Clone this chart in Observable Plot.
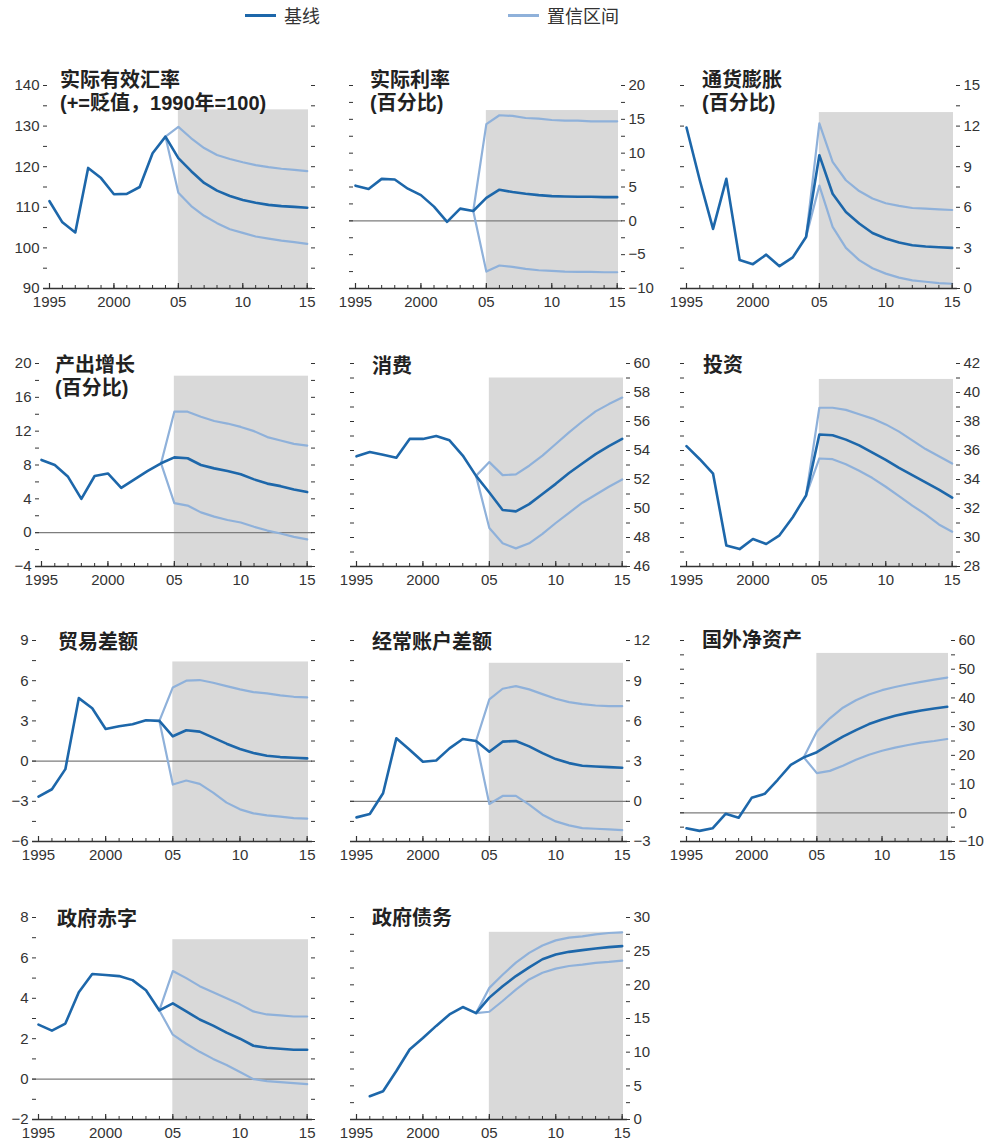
<!DOCTYPE html>
<html>
<head>
<meta charset="utf-8">
<script src="https://cdn.jsdelivr.net/npm/d3@7"></script>
<script src="https://cdn.jsdelivr.net/npm/@observablehq/plot@0.6"></script>
<style>
  html, body { margin: 0; padding: 0; background: #fff; }
  body { width: 987px; height: 1144px; overflow: hidden; }
  #wrap { position: relative; width: 987px; height: 1144px; overflow: hidden; }
  .panel { position: absolute; }
  .panel svg { max-width: none !important; display: block; }
  .title { position: absolute; font-family: "Liberation Sans", "Noto Sans CJK SC", sans-serif; font-weight: 700; font-size: 20px; line-height: 23px; color: #222; white-space: nowrap; }
  .legend-line { position: absolute; height: 3px; }
  .legend-text { position: absolute; font-family: "Noto Sans CJK SC", sans-serif; font-size: 18px; line-height: 20px; color: #333; }
</style>
</head>
<body>
<div id="wrap"></div>
<script>
// ---------- data ----------
const years = [1995,1996,1997,1998,1999,2000,2001,2002,2003,2004,2005,2006,2007,2008,2009,2010,2011,2012,2013,2014,2015];
const projYears = [2004,2005,2006,2007,2008,2009,2010,2011,2012,2013,2014,2015];
const xTickValues = [1995, 2000, 2005, 2010, 2015];
const xTickLabels = ["1995", "2000", "05", "10", "15"];
const legendLabels = ["基线", "置信区间"];

const titles = [
  ["实际有效汇率", "(+=贬值，1990年=100)"],
  ["实际利率", "(百分比)"],
  ["通货膨胀", "(百分比)"],
  ["产出增长", "(百分比)"],
  ["消费"],
  ["投资"],
  ["贸易差额"],
  ["经常账户差额"],
  ["国外净资产"],
  ["政府赤字"],
  ["政府债务"]
];

const reerBase  = [111.5,106.3,103.8,119.7,117.2,113.2,113.3,115.0,123.3,127.4,122.1,118.9,116.0,114.1,112.8,111.8,111.1,110.6,110.3,110.1,109.9];
const reerUpper = [127.4,129.8,127.0,124.6,122.9,121.9,121.1,120.4,119.9,119.5,119.2,118.9];
const reerLower = [127.4,113.6,110.3,107.9,106.1,104.6,103.7,102.8,102.3,101.8,101.4,101.0];

const rateBase  = [5.2,4.7,6.2,6.1,4.75,3.8,2.1,-0.15,1.8,1.45,3.4,4.6,4.25,4.0,3.8,3.65,3.6,3.55,3.55,3.5,3.5];
const rateUpper = [1.45,14.3,15.6,15.5,15.2,15.1,14.9,14.8,14.8,14.7,14.7,14.7];
const rateLower = [1.45,-7.5,-6.6,-6.8,-7.1,-7.3,-7.4,-7.5,-7.55,-7.55,-7.6,-7.6];

const inflBase  = [11.9,8.0,4.4,8.1,2.1,1.8,2.5,1.65,2.3,3.8,9.85,7.0,5.65,4.8,4.1,3.7,3.4,3.2,3.1,3.05,3.0];
const inflUpper = [3.8,12.2,9.35,8.0,7.2,6.65,6.3,6.1,5.95,5.9,5.85,5.8];
const inflLower = [3.8,7.6,4.55,3.0,2.1,1.5,1.1,0.8,0.6,0.5,0.4,0.35];

const growthBase  = [8.6,8.0,6.6,4.0,6.7,7.0,5.3,6.3,7.3,8.2,8.9,8.8,8.0,7.6,7.3,6.9,6.3,5.8,5.5,5.1,4.8];
const growthUpper = [8.2,14.3,14.3,13.7,13.2,12.9,12.5,12.0,11.3,10.9,10.5,10.3];
const growthLower = [8.2,3.5,3.2,2.4,1.9,1.5,1.2,0.7,0.25,-0.1,-0.5,-0.8];

const consBase  = [53.6,53.9,53.7,53.5,54.8,54.8,55.0,54.7,53.65,52.25,51.1,49.9,49.8,50.3,51.0,51.7,52.45,53.1,53.75,54.3,54.8];
const consUpper = [52.25,53.2,52.3,52.35,52.95,53.65,54.45,55.25,56.0,56.7,57.2,57.65];
const consLower = [52.25,48.65,47.6,47.25,47.6,48.25,49.0,49.7,50.4,50.95,51.5,52.0];

const invBase  = [36.3,35.4,34.4,29.45,29.2,29.9,29.55,30.15,31.4,32.9,37.1,37.05,36.75,36.35,35.85,35.35,34.8,34.3,33.8,33.3,32.75];
const invUpper = [32.9,38.95,38.95,38.8,38.5,38.2,37.8,37.3,36.7,36.1,35.6,35.1];
const invLower = [32.9,35.45,35.4,35.05,34.6,34.1,33.5,32.85,32.2,31.6,30.9,30.4];

const tradeBase  = [-2.65,-2.1,-0.6,4.7,3.95,2.4,2.6,2.75,3.05,3.0,1.85,2.3,2.2,1.75,1.3,0.9,0.6,0.4,0.3,0.25,0.2];
const tradeUpper = [3.0,5.5,6.0,6.05,5.85,5.6,5.35,5.15,5.05,4.9,4.8,4.75];
const tradeLower = [3.0,-1.75,-1.45,-1.7,-2.35,-3.1,-3.6,-3.9,-4.05,-4.15,-4.25,-4.3];

const caBase  = [-1.2,-0.95,0.6,4.7,3.85,2.95,3.05,3.95,4.65,4.5,3.7,4.45,4.5,4.1,3.6,3.15,2.85,2.65,2.6,2.55,2.5];
const caUpper = [4.5,7.6,8.4,8.6,8.35,8.0,7.65,7.4,7.25,7.15,7.1,7.1];
const caLower = [4.5,-0.2,0.4,0.4,-0.25,-1.0,-1.5,-1.8,-2.0,-2.05,-2.1,-2.15];

const nfaBase  = [-5.4,-6.3,-5.4,-0.35,-1.7,5.2,6.6,11.5,16.7,19.3,21.1,23.9,26.5,28.8,30.9,32.5,33.8,34.8,35.6,36.3,36.9];
const nfaUpper = [19.3,28.3,32.9,36.6,39.2,41.2,42.7,43.8,44.75,45.6,46.4,47.1];
const nfaLower = [19.3,13.8,14.6,16.4,18.45,20.2,21.6,22.7,23.6,24.45,25.0,25.7];

const deficitBase  = [2.7,2.4,2.75,4.3,5.2,5.15,5.1,4.9,4.4,3.4,3.75,3.35,2.95,2.65,2.3,2.0,1.65,1.55,1.5,1.45,1.45];
const deficitUpper = [3.4,5.35,5.0,4.6,4.3,4.0,3.7,3.35,3.2,3.15,3.1,3.1];
const deficitLower = [3.4,2.2,1.75,1.35,1.0,0.7,0.35,0.0,-0.1,-0.15,-0.2,-0.25];

const debtBase  = [null,3.45,4.2,7.2,10.4,12.1,13.9,15.6,16.7,15.8,18.1,19.8,21.3,22.6,23.8,24.5,24.9,25.15,25.4,25.6,25.75];
const debtUpper = [15.8,19.55,21.5,23.3,24.75,25.85,26.6,27.0,27.2,27.5,27.7,27.8];
const debtLower = [15.8,16.0,17.6,19.3,20.8,21.8,22.4,22.8,23.0,23.25,23.4,23.6];

// value-axis settings per panel
const yDomains   = [[90,140],[-10,20],[0,15],[-4,20],[46,60],[28,42],[-6,9],[-3,12],[-10,60],[-2,8],[0,30]];
const yTickSteps = [5, 2.5, 1.5, 2, 1, 1, 1.5, 1.5, 5, 1, 2.5];
const yLabelSteps = [10, 5, 3, 4, 2, 2, 3, 3, 10, 2, 5];
const shadeTops  = [134, 16.3, 13.0, 18.5, 59.0, 40.9, 7.4, 10.3, 55.5, 6.9, 27.8];

const series = [
  [reerBase, reerUpper, reerLower],
  [rateBase, rateUpper, rateLower],
  [inflBase, inflUpper, inflLower],
  [growthBase, growthUpper, growthLower],
  [consBase, consUpper, consLower],
  [invBase, invUpper, invLower],
  [tradeBase, tradeUpper, tradeLower],
  [caBase, caUpper, caLower],
  [nfaBase, nfaUpper, nfaLower],
  [deficitBase, deficitUpper, deficitLower],
  [debtBase, debtUpper, debtLower]
];

// ---------- layout (pixels): x of 1995, x of 2015, top, bottom, title x, title first-line centre, label side ----------
const layout = [
  [49, 307, 85, 288, 60, 78, "left"],
  [355, 617, 85, 288, 370, 78, "right"],
  [686, 952, 85, 288, 702, 78, "right"],
  [41, 307, 363, 566, 55, 363, "left"],
  [356, 622, 363, 566, 372, 364, "right"],
  [686, 952, 363, 566, 703, 363, "right"],
  [38, 307, 640, 841, 58, 640, "left"],
  [356, 622, 640, 841, 372, 640, "right"],
  [686, 947, 640, 841, 702, 638, "right"],
  [38, 307, 917, 1119, 57, 917, "left"],
  [356, 622, 917, 1119, 372, 916, "right"]
];

const BASE = "#1d67aa";
const BAND = "#8fb1da";
const SHADE = "#d9d9d9";
const INK = "#333";
const fmt = d3.format("d");
const xEnd = 2015.1;

const wrap = document.getElementById("wrap");

// legend
function legendItem(x, color, label) {
  const ln = document.createElement("div");
  ln.className = "legend-line";
  ln.style.left = x + "px"; ln.style.top = "14px"; ln.style.width = "31px"; ln.style.background = color;
  wrap.appendChild(ln);
  const tx = document.createElement("div");
  tx.className = "legend-text";
  tx.style.left = (x + 39) + "px"; tx.style.top = "5px";
  tx.textContent = label;
  wrap.appendChild(tx);
}
legendItem(245, BASE, legendLabels[0]);
legendItem(508, BAND, legendLabels[1]);

titles.forEach((t, i) => {
  const [x0, x1, yt, yb, tx, ty, side] = layout[i];
  const [base, upper, lower] = series[i];
  const [ymin, ymax] = yDomains[i];
  const step = yTickSteps[i], lstep = yLabelSteps[i];
  const yTicks = d3.range(0, Math.round((ymax - ymin) / step) + 1).map(k => +(ymin + k * step).toFixed(4));
  const isLabel = v => Math.abs(v / lstep - Math.round(v / lstep)) < 1e-6;
  const pxPerYear = (x1 - x0) / 20;
  const innerW = (xEnd - 1995) * pxPerYear;
  const innerH = yb - yt;
  const mL = 50, mR = 50, mT = 20, mB = 32;
  const width = Math.round(mL + innerW + mR);
  const height = innerH + mT + mB;
  const other = side === "left" ? "right" : "left";

  const baseData = years.map((y, j) => ({year: y, value: base[j]})).filter(d => d.value != null);
  const upData = projYears.map((y, j) => ({year: y, value: upper[j]}));
  const loData = projYears.map((y, j) => ({year: y, value: lower[j]}));

  const marks = [
    Plot.rect([{x1: 2005, x2: xEnd, y1: ymin, y2: shadeTops[i]}], {x1: "x1", x2: "x2", y1: "y1", y2: "y2", fill: SHADE}),
  ];
  if (ymin < 0 && ymax > 0) {
    marks.push(Plot.ruleY([0], {stroke: "#7d7d7d", strokeWidth: 1.3, insetLeft: -6, insetRight: -4}));
  }
  marks.push(
    Plot.line(upData, {x: "year", y: "value", stroke: BAND, strokeWidth: 2.2}),
    Plot.line(loData, {x: "year", y: "value", stroke: BAND, strokeWidth: 2.2}),
    Plot.line(baseData, {x: "year", y: "value", stroke: BASE, strokeWidth: 2.6}),
    Plot.ruleY([ymin], {stroke: INK, strokeWidth: 1.5, insetLeft: -6, insetRight: -4}),
    Plot.tickX(years, {x: d => d, stroke: INK, strokeWidth: 1, insetTop: innerH - 3, insetBottom: -1}),
    Plot.tickX(xTickValues, {x: d => d, stroke: INK, strokeWidth: 1.2, insetTop: innerH - 5, insetBottom: -1}),
    Plot.axisX(xTickValues, {anchor: "bottom", tickSize: 0, tickPadding: 8, label: null, fill: INK, fontSize: 15,
      tickFormat: d => xTickLabels[xTickValues.indexOf(d)]}),
    Plot.axisY(yTicks, {anchor: side, tickSize: 4, tickPadding: 4, dx: side === "left" ? -2 : 2, fontSize: 15,
      label: null, stroke: INK, fill: INK, tickFormat: v => isLabel(v) ? fmt(v) : ""}),
    Plot.axisY(yTicks, {anchor: other, tickSize: 4, dx: other === "left" ? -2 : 2,
      label: null, stroke: INK, fill: "none"})
  );

  const chart = Plot.plot({
    width, height,
    marginLeft: mL, marginRight: mR, marginTop: mT, marginBottom: mB,
    x: {domain: [1995, xEnd]},
    y: {domain: [ymin, ymax]},
    style: {fontFamily: "'Liberation Sans', Arial, sans-serif", fontSize: "15px", color: INK, background: "transparent", overflow: "visible", maxWidth: "none"},
    marks
  });
  const holder = document.createElement("div");
  holder.className = "panel";
  holder.style.left = (x0 - mL) + "px";
  holder.style.top = (yt - mT) + "px";
  holder.style.width = width + "px";
  holder.style.height = height + "px";
  holder.appendChild(chart);
  wrap.appendChild(holder);

  // one text block per title; the two lines are split by a line break
  const td = document.createElement("div");
  td.className = "title";
  td.style.left = tx + "px";
  td.style.top = (ty - 9.5) + "px";
  t.forEach((s, li) => {
    if (li > 0) td.appendChild(document.createElement("br"));
    td.appendChild(document.createTextNode(s));
  });
  wrap.appendChild(td);
});
</script>
</body>
</html>
